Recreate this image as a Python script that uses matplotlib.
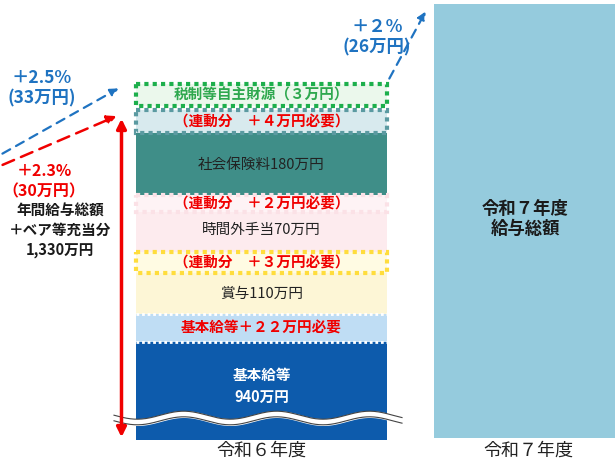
import numpy as np
import matplotlib.pyplot as plt
from matplotlib.patches import FancyArrowPatch

plt.rcParams['font.family'] = ['Noto Sans CJK JP', 'DejaVu Sans']

# ---------------- Data ----------------
categories = ["令和６年度", "令和７年度"]
seg_names = ["基本給等\n940万円", "基本給等＋２２万円必要", "賞与110万円",
             "（連動分　＋３万円必要）", "時間外手当70万円", "（連動分　＋２万円必要）",
             "社会保険料180万円", "（連動分　＋４万円必要）", "税制等自主財源（３万円）"]
seg_values = [940, 22, 110, 3, 70, 2, 180, 4, 3]  # 万円
total_2024 = 1330
rate_labels = ["＋2.5%\n(33万円)", "＋2.3%\n（30万円）", "＋２%\n(26万円)"]
total_label = "年間給与総額\n＋ベア等充当分\n1,330万円"
next_label = "令和７年度\n給与総額"

# ---------------- Layout (pixel-like coordinates) ----------------
# drawn height of each segment (the chart is not to scale)
seg_tops = [342, 314, 273, 252, 197, 195, 133, 110, 84]
seg_bots = [440, 342, 314, 273, 252, 212, 197, 133, 106]
seg_face = ["#0D5BAC", "#BFDDF4", "#FDF6D6", "#FFFBE3", "#FDEBEE", "#FEF3F5",
            "#3F8E88", "#D8EAEE", "#EBF8EC"]
seg_edge = [None, None, None, "#FFDD3C", None, "#FBE1E6", None, "#5B9AA1", "#1DAF4C"]
seg_txt = ["white", "#F00000", "#222222", "#F00000", "#222222", "#F00000",
           "#222222", "#F00000", "#2EA84E"]
seg_bold = [True, True, False, True, False, True, False, True, True]

fig = plt.figure(figsize=(6.15, 4.61), dpi=100)
ax = fig.add_axes([0, 0, 1, 1])
ax.set_xlim(0, 615)
ax.set_ylim(461, 0)
ax.axis("off")

x_left, w_left = 261.5, 251
x_right, w_right = 525, 182

# order: solid fills first, then dotted overlays
draw_order = [0, 1, 2, 4, 6, 3, 5, 7, 8]
for i in draw_order:
    h = seg_bots[i] - seg_tops[i]
    if seg_edge[i] is None:
        ax.bar(x_left, h, bottom=seg_tops[i], width=w_left, color=seg_face[i], zorder=2)
    else:
        ax.bar(x_left, h, bottom=seg_tops[i], width=w_left, color=seg_face[i],
               edgecolor=seg_edge[i], linewidth=3, linestyle=(0, (1, 1)), zorder=3)
    yc = (seg_tops[i] + seg_bots[i]) / 2
    if i == 0:
        yc -= 5
    if i == 4:
        yc += 5
    ax.text(x_left, yc, seg_names[i], ha="center", va="center", color=seg_txt[i],
            fontsize=10.5, fontweight="bold" if seg_bold[i] else "normal",
            linespacing=1.4, zorder=5)

# white dotted edges on blue segments
ax.plot([136, 387], [342, 342], color="white", lw=2, ls=(0, (1, 1)), zorder=4)
ax.plot([136, 387], [314, 314], color="white", lw=2, ls=(0, (1, 1)), zorder=4)

# wave break on base segment
xs = np.linspace(114, 402, 300)
wave = 418 + 4 * np.sin((xs - 114) / 288 * 2 * np.pi * 3.1)
ax.fill_between(xs, wave - 2.8, wave + 2.8, color="white", zorder=4)
ax.plot(xs, wave - 2.8, color="#444444", lw=0.8, zorder=4)
ax.plot(xs, wave + 2.8, color="#444444", lw=0.8, zorder=4)

# right bar
ax.bar(x_right, 434, bottom=4, width=w_right, color="#95CBDD", zorder=2)
ax.text(x_right, 219, next_label, ha="center", va="center", fontsize=12.5,
        fontweight="bold", color="#1a1a1a", linespacing=1.2)

# category labels
ax.text(x_left, 451, categories[0], ha="center", va="center", fontsize=13, color="#222222")
ax.text(x_right + 3, 451, categories[1], ha="center", va="center", fontsize=13, color="#222222")

# red double arrow (1,330万円)
ax.add_patch(FancyArrowPatch((121.5, 116), (121.5, 440), arrowstyle="<|-|>",
                             mutation_scale=14, color="#F00000", lw=2.5, zorder=6))

# dashed growth arrows
ax.add_patch(FancyArrowPatch((0, 155), (121, 87), arrowstyle="-|>", mutation_scale=12,
                             color="#1F73C1", lw=1.6, ls=(0, (4, 3)), zorder=6))
ax.add_patch(FancyArrowPatch((0, 166), (119, 115), arrowstyle="-|>", mutation_scale=14,
                             color="#F00000", lw=1.8, ls=(0, (5, 3)), zorder=6))
ax.add_patch(FancyArrowPatch((388, 81), (427, 9), arrowstyle="-|>", mutation_scale=12,
                             color="#1F73C1", lw=1.6, ls=(0, (4, 3)), zorder=6))

ax.text(42, 88, rate_labels[0], ha="center", va="center", fontsize=12.5,
        fontweight="bold", color="#1F73C1", linespacing=1.2)
ax.text(44, 181, rate_labels[1], ha="center", va="center", fontsize=11.5,
        fontweight="bold", color="#F00000", linespacing=1.3)
ax.text(377, 37, rate_labels[2], ha="center", va="center", fontsize=12.5,
        fontweight="bold", color="#1F73C1", linespacing=1.2)
ax.text(60, 230, total_label, ha="center", va="center", fontsize=10.5,
        fontweight="bold", color="#1a1a1a", linespacing=1.3)

fig.savefig("out.png", dpi=100)
